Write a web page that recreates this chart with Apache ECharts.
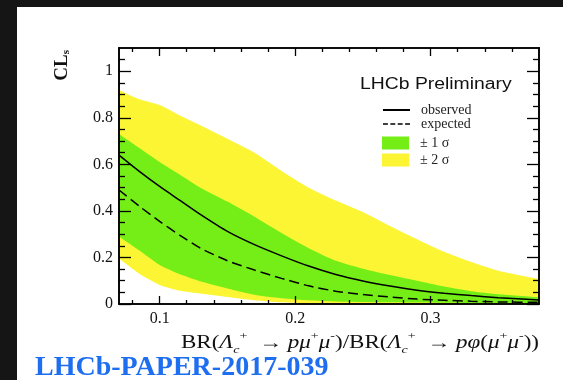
<!DOCTYPE html>
<html>
<head>
<meta charset="utf-8">
<script src="https://cdn.jsdelivr.net/npm/echarts@6/dist/echarts.min.js"></script>
<style>
html,body{margin:0;padding:0;background:#ffffff;}
#chart{width:563px;height:380px;}
</style>
</head>
<body>
<div id="chart"></div>
<script>
// ---- data ----
const xValues      = [0.07, 0.085, 0.1, 0.115, 0.13, 0.15, 0.17, 0.19, 0.21, 0.23, 0.25, 0.27, 0.29, 0.31, 0.33, 0.35, 0.38];
const observed     = [0.64, 0.57, 0.505, 0.445, 0.385, 0.312, 0.255, 0.207, 0.163, 0.127, 0.099, 0.077, 0.059, 0.046, 0.036, 0.027, 0.017];
const expected     = [0.49, 0.42, 0.355, 0.295, 0.24, 0.186, 0.146, 0.11, 0.078, 0.055, 0.041, 0.03, 0.021, 0.016, 0.012, 0.009, 0.007];
const sigma1Upper  = [0.73, 0.67, 0.61, 0.555, 0.5, 0.44, 0.375, 0.305, 0.24, 0.186, 0.152, 0.125, 0.1, 0.075, 0.055, 0.042, 0.029];
const sigma1Lower  = [0.29, 0.23, 0.168, 0.128, 0.098, 0.067, 0.04, 0.025, 0.016, 0.011, 0.009, 0.007, 0.006, 0.005, 0.004, 0.003, 0.002];
const sigma2Upper  = [0.92, 0.88, 0.855, 0.81, 0.768, 0.71, 0.65, 0.572, 0.5, 0.445, 0.395, 0.335, 0.278, 0.224, 0.18, 0.143, 0.107];
const sigma2Lower  = [0.195, 0.13, 0.082, 0.057, 0.045, 0.03, 0.016, 0.007, 0.003, 0.002, 0.001, 0, 0, 0, 0, 0, 0];
const xMajorTicks  = [0.1, 0.2, 0.3];
const xMinorTicks  = [0.08, 0.12, 0.14, 0.16, 0.18, 0.22, 0.24, 0.26, 0.28, 0.32, 0.34, 0.36];
const yMajorTicks  = [0, 0.2, 0.4, 0.6, 0.8, 1];
const yMinorTicks  = [0.05, 0.1, 0.15, 0.25, 0.3, 0.35, 0.45, 0.5, 0.55, 0.65, 0.7, 0.75, 0.85, 0.9, 0.95, 1.05];

const YELLOW = '#fcf533';
const GREEN = '#74ee16';
const SERIF = '"Liberation Serif", "DejaVu Serif", serif';
const SANS = '"Liberation Sans", Arial, sans-serif';

const pair = arr => xValues.map((x, i) => [x, arr[i]]);

const chart = echarts.init(document.getElementById('chart'), null, {renderer: 'canvas'});

function xAxisDef(pos, ticks, len, labels) {
  return {
    type: 'value', position: pos, min: 0.07, max: 0.38, z: 5,
    axisLine: {show: true, onZero: false, lineStyle: {color: '#000', width: 1.6}},
    axisTick: {show: true, inside: true, length: len, customValues: ticks, lineStyle: {color: '#000', width: 1.3}},
    axisLabel: labels ? {show: true, customValues: xMajorTicks, margin: 7, color: '#111', fontFamily: SERIF, fontSize: 16,
      formatter: v => String(+v.toFixed(2))} : {show: false},
    splitLine: {show: false}
  };
}
function yAxisDef(pos, ticks, len, labels) {
  return {
    type: 'value', position: pos, min: 0, max: 1.1, z: 5,
    axisLine: {show: true, onZero: false, lineStyle: {color: '#000', width: 1.6}},
    axisTick: {show: true, inside: true, length: len, customValues: ticks, lineStyle: {color: '#000', width: 1.3}},
    axisLabel: labels ? {show: true, customValues: yMajorTicks, margin: 6, color: '#111', fontFamily: SERIF, fontSize: 16,
      formatter: v => String(+v.toFixed(1))} : {show: false},
    splitLine: {show: false}
  };
}

function band(name, data, color, z) {
  return {
    name: name, type: 'line', data: pair(data), symbol: 'none', smooth: 0.2, z: z,
    xAxisIndex: 0, yAxisIndex: 0,
    lineStyle: {width: 0, color: color}, itemStyle: {color: color},
    areaStyle: {color: color, opacity: 1, origin: 'start'},
    silent: true
  };
}

const sub = {fontFamily: SERIF, fontSize: 11, fontStyle: 'italic', lineHeight: 11, verticalAlign: 'bottom', padding: [0, 0, -3, 0]};
const sup = {fontFamily: SERIF, fontSize: 11, lineHeight: 11, verticalAlign: 'top', padding: [-2, 0, 0, 0]};
const legendText = {fontFamily: SERIF, fontSize: 14, color: '#222', padding: [0, 0, 0, 6]};

chart.setOption({
  backgroundColor: '#ffffff',
  animation: false,
  grid: {left: 119, top: 48, right: 24, bottom: 76, containLabel: false},
  xAxis: [
    xAxisDef('bottom', xMajorTicks, 8, true),
    xAxisDef('bottom', xMinorTicks, 4, false),
    xAxisDef('top', xMajorTicks, 8, false),
    xAxisDef('top', xMinorTicks, 4, false)
  ],
  yAxis: [
    yAxisDef('left', yMajorTicks, 12, true),
    yAxisDef('left', yMinorTicks, 6, false),
    yAxisDef('right', yMajorTicks, 12, false),
    yAxisDef('right', yMinorTicks, 6, false)
  ],
  legend: [
    {
      data: [
        {name: 'observed', icon: 'rect'},
        {name: 'expected', icon: 'path://M0,0h6v2h-6z M9,0h6v2h-6z M18,0h6v2h-6z M27,0h6v2h-6z'}
      ],
      orient: 'vertical', left: 383, top: 103, padding: 0,
      itemWidth: 27, itemHeight: 2, itemGap: 0, selectedMode: false,
      textStyle: legendText
    },
    {
      data: [{name: '± 1 σ', icon: 'rect'}, {name: '± 2 σ', icon: 'rect'}], orient: 'vertical', left: 382, top: 136, padding: 0,
      itemWidth: 27, itemHeight: 13, itemGap: 3, selectedMode: false,
      textStyle: legendText
    }
  ],
  series: [
    band('± 2 σ', sigma2Upper, YELLOW, 1),
    band('± 1 σ', sigma1Upper, GREEN, 2),
    band('± 2 σ', sigma1Lower, YELLOW, 3),
    band('base', sigma2Lower, '#ffffff', 4),
    {
      name: 'observed', type: 'line', data: pair(observed), symbol: 'none', smooth: 0.2, z: 6,
      lineStyle: {color: '#000', width: 1.5}, itemStyle: {color: '#000'}
    },
    {
      name: 'expected', type: 'line', data: pair(expected), symbol: 'none', smooth: 0.2, z: 6,
      lineStyle: {color: '#000', width: 1.5, type: [10, 5]}, itemStyle: {color: '#000'}
    }
  ],
  graphic: [
    {type: 'rect', shape: {x: 0, y: 0, width: 563, height: 7}, style: {fill: '#151515'}, z: 0, silent: true},
    {type: 'rect', shape: {x: 0, y: 0, width: 17, height: 380}, style: {fill: '#151515'}, z: 0, silent: true},
    {
      type: 'text', x: 62, y: 50, rotation: Math.PI / 2, z: 10,
      style: {
        text: '{m|CL}{s|s}', align: 'right', verticalAlign: 'middle',
        rich: {
          m: {fontFamily: SERIF, fontSize: 19, fontWeight: 'bold', lineHeight: 20, fill: '#111'},
          s: {fontFamily: SERIF, fontSize: 11, fontWeight: 'bold', lineHeight: 11, verticalAlign: 'bottom', fill: '#111'}
        }
      }
    },
    {
      type: 'text', x: 539, y: 343, scaleX: 1.28, z: 10,
      style: {
        text: '{m|BR(}{i|Λ}{sb|c}{sp|+}{m|  → }{i|pμ}{sp|+}{i|μ}{sp|-}{m|)/BR(}{i|Λ}{sb|c}{sp|+}{m|  → }{i|pφ}{m|(}{i|μ}{sp|+}{i|μ}{sp|-}{m|))}',
        align: 'right', verticalAlign: 'middle',
        rich: {
          m: {fontFamily: SERIF, fontSize: 18, lineHeight: 20, fill: '#111'},
          i: {fontFamily: SERIF, fontSize: 18, fontStyle: 'italic', lineHeight: 20, fill: '#111'},
          sb: Object.assign({fill: '#111'}, sub),
          sp: Object.assign({fill: '#111'}, sup)
        }
      }
    },
    {
      type: 'text', x: 35, y: 368, z: 10,
      style: {text: 'LHCb-PAPER-2017-039', align: 'left', verticalAlign: 'middle',
        fontFamily: SERIF, fontSize: 28, fontWeight: 'bold', fill: '#1e6ef0'}
    },
    {
      type: 'text', x: 360, y: 85, scaleX: 1.21, z: 10,
      style: {text: 'LHCb Preliminary', align: 'left', verticalAlign: 'middle', fontFamily: SANS, fontSize: 16, fill: '#111'}
    }
  ]
});
</script>
</body>
</html>
